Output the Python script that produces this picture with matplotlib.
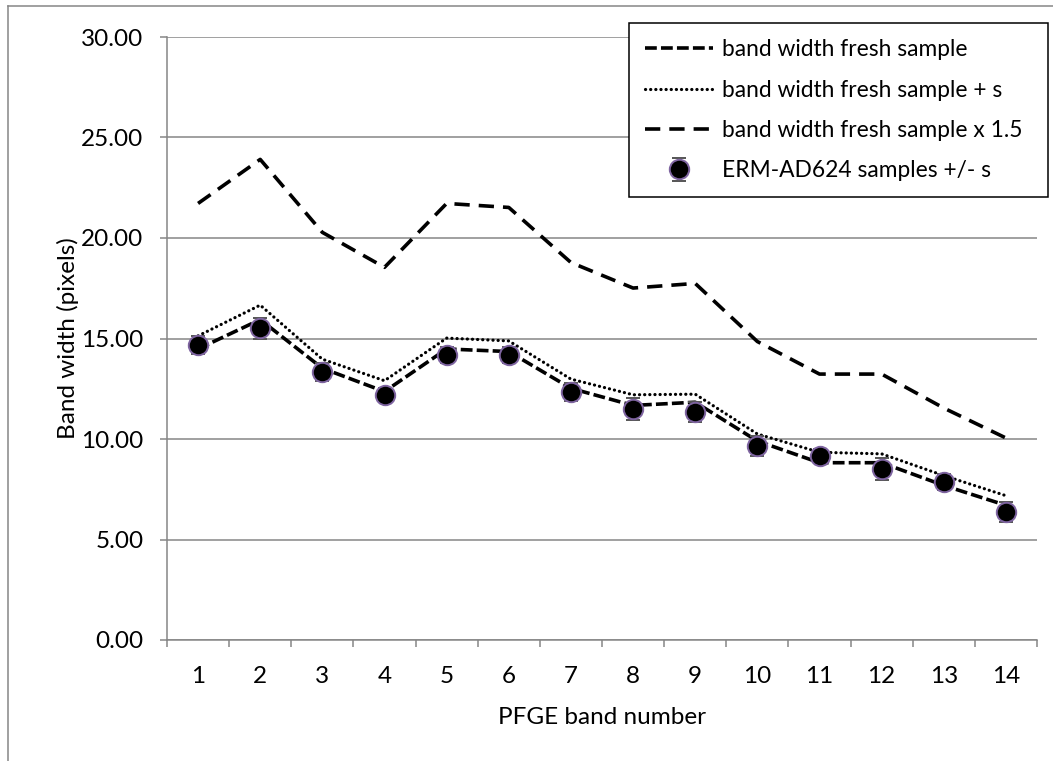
import numpy as np
import matplotlib
matplotlib.use('Agg')
import matplotlib.pyplot as plt
from matplotlib.lines import Line2D

plt.rcParams['font.family'] = ['Lato', 'DejaVu Sans']
plt.rcParams['lines.scale_dashes'] = False

#band numbers and widths
bands = np.arange(1, 15)
fresh = [14.48, 15.94, 13.52, 12.36, 14.48, 14.35, 12.52, 11.67, 11.83, 9.90, 8.82, 8.82, 7.69, 6.70]
fresh_s = [15.13, 16.66, 13.97, 12.90, 15.02, 14.88, 12.98, 12.20, 12.23, 10.25, 9.34, 9.26, 8.18, 7.18]
fresh_15 = [21.72, 23.91, 20.28, 18.54, 21.72, 21.52, 18.78, 17.51, 17.74, 14.85, 13.23, 13.23, 11.54, 10.05]
erm = [14.67, 15.50, 13.34, 12.18, 14.17, 14.17, 12.35, 11.49, 11.33, 9.67, 9.17, 8.51, 7.84, 6.35]
erm_sd = [0.45, 0.50, 0.45, 0.35, 0.40, 0.40, 0.45, 0.55, 0.50, 0.50, 0.35, 0.55, 0.40, 0.50]

labels = ['band width fresh sample', 'band width fresh sample + s',
          'band width fresh sample x 1.5', 'ERM-AD624 samples +/- s']

gray = '#868686'
fs = 17.5
fs_leg = 16.4

W, H = 1053, 761
fig = plt.figure(figsize=(W/100, H/100), dpi=100)
ax = fig.add_axes([167/W, 1-640/H, (1037-167)/W, (640-37)/H])

#outer chart frame (only top and left are visible in the crop)
fig.add_artist(Line2D([8/W, 8/W], [0, 1-6/H], color=gray, lw=1.1, transform=fig.transFigure))
fig.add_artist(Line2D([8/W, 1], [1-6/H, 1-6/H], color=gray, lw=1.1, transform=fig.transFigure))

ax.plot(bands, fresh, color='k', lw=2.6, dashes=(8.5, 3.0), label=labels[0], zorder=3)
ax.plot(bands, fresh_s, color='k', lw=2.3, dashes=(0.1, 3.6), dash_capstyle='round', label=labels[1], zorder=3)
ax.plot(bands, fresh_15, color='k', lw=2.6, dashes=(11, 6.5), label=labels[2], zorder=3)
ax.errorbar(bands, erm, yerr=erm_sd, fmt='o', ms=14, mfc='black', mec='#7E64A0', mew=1.4,
            ecolor='#555555', elinewidth=0.8, capsize=5, capthick=0.8, label=labels[3], zorder=4)

ax.set_xlim(0.5, 14.5)
ax.set_ylim(0, 30)
ax.set_yticks(np.arange(0, 31, 5))
ax.set_yticklabels(['%.2f' % v for v in np.arange(0, 31, 5)])
ax.set_xticks(bands)
ax.set_xticks(np.arange(0.5, 15, 1), minor=True)
ax.tick_params(axis='x', which='major', length=0, pad=19, labelsize=fs)
ax.tick_params(axis='x', which='minor', length=5, width=1.1, color=gray)
ax.tick_params(axis='y', which='major', length=5, width=1.1, color=gray, pad=12, labelsize=fs)

ax.grid(axis='y', color=gray, lw=1.1)
ax.set_axisbelow(True)
for s in ['top', 'right']:
    ax.spines[s].set_visible(False)
for s in ['left', 'bottom']:
    ax.spines[s].set_color(gray)
    ax.spines[s].set_linewidth(1.1)

fig.text(68/W, 1-338/H, 'Band width (pixels)', rotation=90, ha='center', va='center', fontsize=fs)
fig.text(602/W, 1-717/H, 'PFGE band number', ha='center', va='center', fontsize=fs)

h, l = ax.get_legend_handles_labels()
leg = ax.legend(h, l, loc='upper left', bbox_to_anchor=(629/W, 1-31/H, (1048-629)/W, 0.01),
                bbox_transform=fig.transFigure, mode='expand', borderaxespad=0, fancybox=False,
                edgecolor='black', framealpha=1, fontsize=fs_leg, handlelength=3.0, handletextpad=0.4,
                labelspacing=0.85, borderpad=0.7)
leg.get_frame().set_linewidth(1.1)

fig.savefig('out.png', dpi=100)
